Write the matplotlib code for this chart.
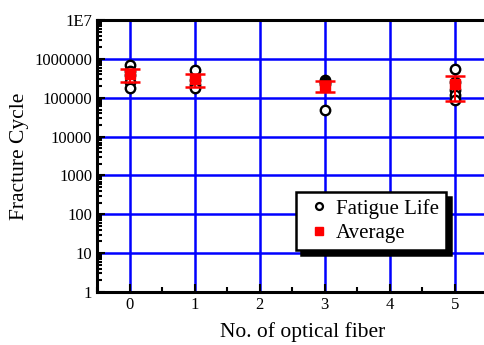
import matplotlib.pyplot as plt
import numpy as np
from matplotlib.lines import Line2D
from matplotlib.ticker import FixedLocator, LogLocator, NullFormatter, FuncFormatter

plt.rcParams['font.family'] = ['Liberation Serif', 'DejaVu Serif']

# ── Data ──────────────────────────────────────────────────────────────────────
fiber_x = [0, 0, 0, 0, 0,
           1, 1, 1, 1,
           3, 3, 3, 3,
           5, 5, 5, 5, 5]
fatigue_life = [690000, 500000, 380000, 250000, 180000,
                515000, 290000, 212000, 178000,
                286000, 250000, 225000, 48000,
                550000, 253000, 158000, 118000, 87000]

avg_x = [0, 1, 3, 5]
avg_life = [401000, 299000, 206000, 226000]
avg_err = [147000, 110000, 68000, 142000]

y_ticks = [1, 10, 100, 1000, 10000, 100000, 1000000, 10000000]
y_ticklabels = ['1', '10', '100', '1000', '10000', '100000', '1000000', '1E7']

# ── Figure ─────────────────────────────────────────────────────────────────────
fig = plt.figure(figsize=(4.85, 3.45), dpi=100)
ax = fig.add_axes([0.2, 0.1536, 0.805, 0.788])

ax.set_yscale('log')
ax.set_xlim(-0.5, 5.5)
ax.set_ylim(1, 1e7)

ax.grid(True, which='major', color='#0000ff', linewidth=1.8, zorder=0)
ax.set_axisbelow(True)

ax.plot(fiber_x, fatigue_life, linestyle='none', marker='o', markersize=6.8,
        markerfacecolor='white', markeredgecolor='black', markeredgewidth=1.7,
        zorder=3)
ax.errorbar(avg_x, avg_life, yerr=avg_err, fmt='s', color='red',
            markersize=7, ecolor='red', elinewidth=1.5, capsize=7, capthick=1.8,
            zorder=4)

ax.xaxis.set_major_locator(FixedLocator([0, 1, 2, 3, 4, 5]))
ax.xaxis.set_minor_locator(FixedLocator([-0.5, 0.5, 1.5, 2.5, 3.5, 4.5, 5.5]))
ax.yaxis.set_major_locator(FixedLocator(y_ticks))
ax.yaxis.set_major_formatter(FuncFormatter(lambda v, p: y_ticklabels[y_ticks.index(round(v))]
                                           if round(v) in y_ticks else ''))
ax.yaxis.set_minor_locator(LogLocator(base=10, subs=np.arange(2, 10), numticks=20))
ax.yaxis.set_minor_formatter(NullFormatter())

ax.tick_params(which='both', direction='in', top=False, right=False,
               labelsize=12, color='black', width=1.5)
ax.tick_params(which='major', length=6)
ax.tick_params(which='minor', length=3.5)

for s in ax.spines.values():
    s.set_linewidth(2.2)
    s.set_color('black')

ax.set_xlabel('No. of optical fiber', fontsize=15.5)
ax.xaxis.set_label_coords(0.526, -0.112)
ax.set_ylabel('Fracture Cycle', fontsize=15.5, labelpad=4)

handles = [
    Line2D([], [], linestyle='none', marker='o', markersize=5,
           markerfacecolor='white', markeredgecolor='black', markeredgewidth=1.6),
    Line2D([], [], linestyle='none', marker='s', markersize=5.5, color='red'),
]
leg = ax.legend(handles, ['Fatigue Life', 'Average'],
                loc='upper left', bbox_to_anchor=(296 / 485, 1 - 192 / 345),
                bbox_transform=fig.transFigure, fontsize=15, frameon=True,
                fancybox=False, framealpha=1, edgecolor='black',
                shadow={'color': 'black', 'alpha': 1, 'ox': 3.5, 'oy': -3.5},
                handlelength=1.55, handletextpad=0.05, borderpad=0.32,
                labelspacing=0.25, borderaxespad=0)
leg.get_frame().set_linewidth(1.8)

fig.savefig('out.png', dpi=100)
